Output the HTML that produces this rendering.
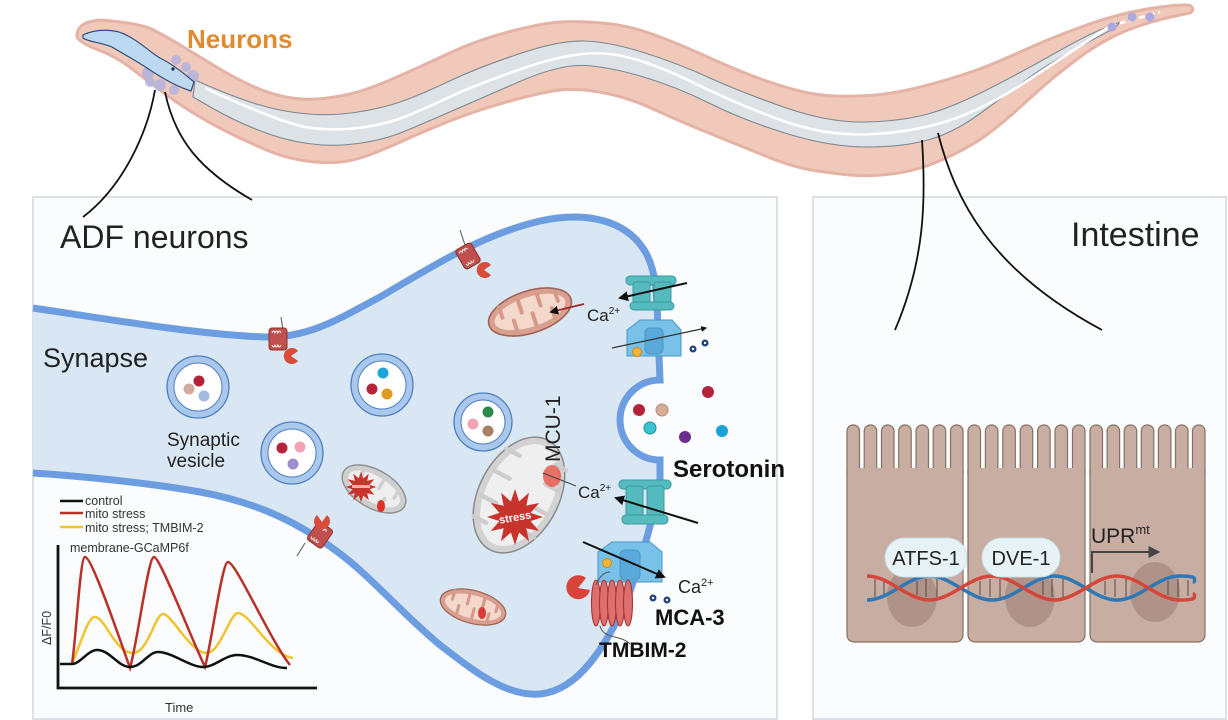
<!DOCTYPE html>
<html><head><meta charset="utf-8"><style>
html,body{margin:0;padding:0;background:#fff;}
svg{display:block;}
</style></head><body>
<svg width="1228" height="720" viewBox="0 0 1228 720" xmlns="http://www.w3.org/2000/svg" font-family="'Liberation Sans', Arial, sans-serif">
<defs>
<marker id="ah" viewBox="0 0 10 10" refX="8" refY="5" markerWidth="5" markerHeight="5" orient="auto"><path d="M0,0 L10,5 L0,10 z" fill="#111"/></marker>
<marker id="ahg" viewBox="0 0 10 10" refX="8" refY="5" markerWidth="6" markerHeight="6" orient="auto"><path d="M0,0 L10,5 L0,10 z" fill="#444"/></marker>
<polygon id="star" points="28,0 15.5,4.1 24.2,14 11.3,11.3 14,24.2 4.1,15.5 0,28 -4.1,15.5 -14,24.2 -11.3,11.3 -24.2,14 -15.5,4.1 -28,0 -15.5,-4.1 -24.2,-14 -11.3,-11.3 -14,-24.2 -4.1,-15.5 0,-28 4.1,-15.5 14,-24.2 11.3,-11.3 24.2,-14 15.5,-4.1"/>
<g id="mitoH">
  <ellipse cx="0" cy="0" rx="43" ry="21" fill="#d99f8f" stroke="#9e6356" stroke-width="1.6"/>
  <ellipse cx="0" cy="0" rx="37" ry="15" fill="#f4d8cb"/>
  <g stroke="#d69a89" stroke-width="4" stroke-linecap="round">
    <line x1="-28" y1="-14" x2="-28" y2="-3"/><line x1="-18" y1="14" x2="-18" y2="3"/>
    <line x1="-8" y1="-15" x2="-8" y2="-2"/><line x1="2" y1="15" x2="2" y2="2"/>
    <line x1="12" y1="-15" x2="12" y2="-3"/><line x1="22" y1="14" x2="22" y2="3"/>
    <line x1="30" y1="-11" x2="30" y2="-2"/>
  </g>
</g>
<g id="rec">
  <rect x="-9" y="-11" width="18" height="22" rx="3" fill="#c0504d" stroke="#8e2f2c" stroke-width="1"/>
  <path d="M-6,-6 q1.5,-4 3,0 q1.5,-4 3,0 q1.5,-4 3,0 M-6,6 q1.5,4 3,0 q1.5,4 3,0 q1.5,4 3,0" stroke="#fff" stroke-width="0.9" fill="none"/>
</g>
</defs>

<rect width="1228" height="720" fill="#ffffff"/>

<!-- panels -->
<rect x="33" y="197" width="744" height="522" fill="#fbfcfd" stroke="#dde1e6" stroke-width="2"/>
<rect x="813" y="197" width="413" height="522" fill="#fbfcfd" stroke="#dde1e6" stroke-width="2"/>

<!-- WORM -->
<path d="M100,20 Q140,23 153.5,30 Q167,37 183.5,47 Q200,57 216.5,67 Q233,77 250,85 Q267,93 283.5,96.5 Q300,100 316.5,99 Q333,98 350,94 Q367,90 393.5,78.5 Q420,67 448.5,53.5 Q477,40 510,31.5 Q543,23 560,22 Q577,21 602,23 Q627,25 652,34 Q677,43 710,58 Q743,73 768,81.5 Q793,90 811.5,93.5 Q830,97 858.5,96 Q887,95 912,89 Q937,83 962,75 Q987,67 1020,52 Q1053,37 1086.5,25 Q1120,13 1153.5,8 Q1187,3 1191,6 Q1195,10 1190,13 Q1153,20 1128,30 Q1103,40 1078,58.5 Q1053,77 1028,100 Q1003,123 986.5,135 Q970,147 945,158.5 Q920,170 895,173.5 Q870,177 850,175 Q830,173 811.5,170 Q793,167 768,157 Q743,147 710,133.5 Q677,120 652,108.5 Q627,97 602,92.5 Q577,88 560,90 Q543,92 510,101 Q477,110 448.5,121.5 Q420,133 401.5,141.5 Q383,150 366.5,156 Q350,162 333.5,162.5 Q317,163 300,160 Q283,157 266.5,150 Q250,143 233.5,135 Q217,127 200,117 Q183,107 166.5,95 Q150,83 133.5,70 Q117,57 98.5,50 Q80,43 77,37 Q76,22 100,20 Z" fill="#f0c9bb" stroke="#e4b3a5" stroke-width="3"/>
<!-- gut -->
<path d="M195,80 Q233,97 258,104.5 Q283,112 308,114 Q333,116 358,112 Q383,108 401.5,101.5 Q420,95 448.5,81.5 Q477,68 518.5,54 Q560,40 585,41 Q610,42 643.5,52.5 Q677,63 710,78 Q743,93 786.5,108 Q830,123 866.5,122 Q903,121 928,114 Q953,107 986.5,90 Q1020,73 1053.5,54 Q1087,35 1103.5,28.5 L1120,22 L1115,28 Q1053,60 1028,78.5 Q1003,97 978,115 Q953,133 928,140 Q903,147 866.5,147 Q830,147 786.5,133.5 Q743,120 710,103.5 Q677,87 643.5,77 Q610,67 585,65.5 Q560,64 518.5,82 Q477,100 448.5,112.5 Q420,125 401.5,132.5 Q383,140 358,143.5 Q333,147 308,143.5 Q283,140 258,130 Q233,120 213,108.5 L193,97 Z" fill="#dde2e6" stroke="#7d8891" stroke-width="1.1"/>
<path d="M205,88 Q283,124 308,127.5 Q333,131 358,128 Q383,125 401.5,118 Q420,111 448.5,97.5 Q477,84 527,67 Q577,50 610,54 Q643,58 693,82.5 Q743,107 786.5,122 Q830,137 875,134 Q920,131 953.5,119 Q987,107 1020,85.5 Q1053,64 1110,26" fill="none" stroke="#ffffff" stroke-width="2.6"/>
<path d="M1110,26 L1160,12" stroke="#ffffff" stroke-width="2.5" stroke-dasharray="6,4"/>
<circle cx="1112" cy="27" r="4.5" fill="#a9a8e0"/>
<circle cx="1132" cy="17" r="4.5" fill="#a9a8e0"/>
<circle cx="1150" cy="17" r="4.5" fill="#a9a8e0"/>
<!-- neuron blobs -->
<g fill="#b3b2e0" opacity="0.85">
<circle cx="148" cy="73" r="6"/><circle cx="158" cy="62" r="5"/><circle cx="176" cy="60" r="5"/><circle cx="186" cy="67" r="5"/><circle cx="193" cy="76" r="6"/><circle cx="160" cy="85" r="6"/><circle cx="174" cy="90" r="5"/><circle cx="150" cy="82" r="5"/>
</g>
<!-- pharynx -->
<path d="M83,35 C95,29 115,28 128,36 C140,42 150,52 160,58 C172,64 186,75 194,82 L191,91 C178,87 165,80 150,70 C135,60 125,55 112,47 C100,42 88,42 83,38 Z" fill="#bcd9f1" stroke="#2f4d7a" stroke-width="1.2"/>
<circle cx="173" cy="69" r="1.6" fill="#1b2a4a"/>
<text x="187" y="48" font-size="26" font-weight="bold" fill="#e08b2f">Neurons</text>

<!-- CELL -->
<path d="M33,308 C100,318 200,335 265,337 C310,338 340,318 380,297 C430,268 480,235 540,221 C590,210 630,222 647,255 C657,275 657,300 658,330 L660,380 A40,40 0 0 0 660,460 L660,480 C655,515 638,570 625,605 C605,645 580,690 540,694 C505,697 470,668 440,645 C400,612 370,575 335,550 C300,524 260,503 200,492 C150,483 80,476 33,473 Z" fill="#d8e7f3"/>
<path d="M33,308 C100,318 200,335 265,337 C310,338 340,318 380,297 C430,268 480,235 540,221 C590,210 630,222 647,255 C657,275 657,300 658,330 L660,380 A40,40 0 0 0 660,460 L660,480 C655,515 638,570 625,605 C605,645 580,690 540,694 C505,697 470,668 440,645 C400,612 370,575 335,550 C300,524 260,503 200,492 C150,483 80,476 33,473" fill="none" stroke="#6c9de0" stroke-width="7"/>

<!-- connector lines -->
<g fill="none" stroke="#111" stroke-width="1.8">
<path d="M155,90 C148,130 125,185 83,217"/>
<path d="M165,92 C175,140 200,170 252,200"/>
<path d="M922,140 C926,200 925,260 895,330"/>
<path d="M938,133 C955,200 990,270 1102,330"/>
</g>

<text x="60" y="248" font-size="32" fill="#222">ADF neurons</text>
<text x="1071" y="246" font-size="34" fill="#222">Intestine</text>
<text x="43" y="367" font-size="27" fill="#222">Synapse</text>
<text x="167" y="446" font-size="19" fill="#222">Synaptic</text>
<text x="167" y="467" font-size="19" fill="#222">vesicle</text>

<!-- vesicles -->
<g stroke="#4f7fc0">
<circle cx="198" cy="387" r="31" fill="#a9c8ec" stroke-width="1.3"/><circle cx="198" cy="387" r="24" fill="#fff" stroke-width="1"/>
<circle cx="382" cy="385" r="31" fill="#a9c8ec" stroke-width="1.3"/><circle cx="382" cy="385" r="24" fill="#fff" stroke-width="1"/>
<circle cx="292" cy="453" r="31" fill="#a9c8ec" stroke-width="1.3"/><circle cx="292" cy="453" r="24" fill="#fff" stroke-width="1"/>
<circle cx="483" cy="422" r="29" fill="#a9c8ec" stroke-width="1.3"/><circle cx="483" cy="422" r="22" fill="#fff" stroke-width="1"/>
</g>
<circle cx="199" cy="381" r="5.5" fill="#b5233a"/><circle cx="189" cy="389" r="5.5" fill="#d2ab9a"/><circle cx="204" cy="396" r="5.5" fill="#a3bbe0"/>
<circle cx="383" cy="373" r="5.5" fill="#1aa7d8"/><circle cx="372" cy="389" r="5.5" fill="#b5233a"/><circle cx="387" cy="394" r="5.5" fill="#e09a1e"/>
<circle cx="282" cy="448" r="5.5" fill="#b5233a"/><circle cx="300" cy="447" r="5.5" fill="#f2a3b3"/><circle cx="293" cy="464" r="5.5" fill="#a08fd0"/>
<circle cx="488" cy="412" r="5.5" fill="#2e8a4a"/><circle cx="473" cy="424" r="5.5" fill="#f2a3b3"/><circle cx="488" cy="431" r="5.5" fill="#a88066"/>

<!-- healthy mitochondria -->
<g transform="translate(530,312) rotate(-18)"><use href="#mitoH"/></g>
<g transform="translate(473,607) rotate(15) scale(0.78)"><use href="#mitoH"/></g>
<ellipse cx="482" cy="613" rx="4" ry="6" fill="#d83a3a"/>

<!-- stressed mito small -->
<g transform="translate(374,489) rotate(30)">
<ellipse rx="35" ry="19" fill="#cfcfcf" stroke="#8f8f8f" stroke-width="1.4"/>
<ellipse rx="29" ry="13" fill="#eeeeee"/>
<g stroke="#cfcfcf" stroke-width="3.5" stroke-linecap="round"><line x1="-18" y1="-13" x2="-18" y2="-3"/><line x1="-8" y1="13" x2="-8" y2="3"/><line x1="4" y1="-13" x2="4" y2="-3"/><line x1="14" y1="13" x2="14" y2="3"/><line x1="22" y1="-10" x2="22" y2="-2"/></g>
</g>
<g transform="translate(361,487) scale(0.55)"><use href="#star" fill="#c8332c"/></g>
<rect x="352" y="485" width="18" height="3" fill="#f0b0a8"/>
<ellipse cx="381" cy="506" rx="4" ry="6" fill="#e0302a"/>

<!-- big stressed mito -->
<g transform="translate(519,495) rotate(28)">
<ellipse rx="40" ry="62" fill="#d2d2d2" stroke="#8a8a8a" stroke-width="1.5"/>
<ellipse rx="33" ry="55" fill="#efefef"/>
<g stroke="#cdcdcd" stroke-width="4.5" stroke-linecap="round"><line x1="-33" y1="-35" x2="-18" y2="-35"/><line x1="33" y1="-22" x2="18" y2="-22"/><line x1="-33" y1="-10" x2="-16" y2="-10"/><line x1="33" y1="4" x2="16" y2="4"/><line x1="-33" y1="18" x2="-16" y2="18"/><line x1="33" y1="30" x2="18" y2="30"/><line x1="-30" y1="40" x2="-16" y2="40"/><line x1="30" y1="-44" x2="18" y2="-44"/></g>
</g>
<ellipse cx="552" cy="476" rx="9" ry="11" fill="#e55a50" opacity="0.85"/>
<g transform="translate(515,517)"><use href="#star" fill="#c8332c"/></g>
<text x="515" y="521" font-size="11" font-weight="bold" fill="#fff" text-anchor="middle" transform="rotate(-10 515 517)">stress</text>
<text x="0" y="0" font-size="21" fill="#222" transform="translate(560,462) rotate(-90)">MCU-1</text>

<!-- receptors -->
<line x1="283" y1="330" x2="281" y2="317" stroke="#555" stroke-width="1"/>
<g transform="translate(278,339)"><use href="#rec"/></g>
<path d="M291,356 L298,351 A8,8 0 1 0 298,361 Z" fill="#d94b3a"/>
<line x1="465" y1="245" x2="460" y2="230" stroke="#555" stroke-width="1"/>
<g transform="translate(468,256) rotate(-30)"><use href="#rec"/></g>
<path d="M484,270 L491,265 A8,8 0 1 0 491,275 Z" fill="#d94b3a"/>
<g transform="translate(320,535) rotate(35)"><use href="#rec"/></g>
<path d="M322,522 L329,517 A8,8 0 1 0 329,527 Z" fill="#d94b3a" transform="rotate(-90 322 522)"/>
<line x1="305" y1="543" x2="297" y2="556" stroke="#555" stroke-width="1"/>

<!-- channels -->
<g fill="#55bbbe" stroke="#3c9a9e" stroke-width="1">
<rect x="626" y="276" width="50" height="9" rx="4"/>
<rect x="633" y="282" width="17" height="28" rx="3"/>
<rect x="654" y="282" width="17" height="28" rx="3"/>
<rect x="630" y="302" width="44" height="8" rx="4"/>
<rect x="619" y="480" width="52" height="9" rx="4"/>
<rect x="626" y="486" width="17" height="34" rx="3"/>
<rect x="647" y="486" width="17" height="34" rx="3"/>
<rect x="622" y="515" width="46" height="9" rx="4"/>
</g>
<g fill="#78c1e8" stroke="#4a97c4" stroke-width="1">
<path d="M627,330 L640,320 L672,320 L681,330 L681,356 L627,356 Z"/>
<rect x="645" y="328" width="18" height="26" rx="5" fill="#5aa9da"/>
<path d="M598,552 L612,542 L650,542 L662,552 L662,582 L598,582 Z"/>
<rect x="620" y="550" width="20" height="30" rx="5" fill="#5aa9da"/>
</g>
<circle cx="637" cy="352" r="4.5" fill="#f2b53a" stroke="#c58a1f"/>
<circle cx="607" cy="563" r="4.5" fill="#f2b53a" stroke="#c58a1f"/>
<g fill="#23427a"><circle cx="693" cy="349" r="3.5"/><circle cx="705" cy="343" r="3.5"/><circle cx="653" cy="598" r="3.5"/><circle cx="667" cy="600" r="3.5"/></g>
<g fill="#fff"><circle cx="693" cy="349" r="1.2"/><circle cx="705" cy="343" r="1.2"/><circle cx="653" cy="598" r="1.2"/><circle cx="667" cy="600" r="1.2"/></g>

<!-- TMBIM-2 coils -->
<g fill="#dd6f6f" stroke="#a83232" stroke-width="1.1">
<ellipse cx="596" cy="603" rx="4.5" ry="23"/><ellipse cx="604" cy="603" rx="4.5" ry="23"/><ellipse cx="612" cy="603" rx="4.5" ry="23"/><ellipse cx="620" cy="603" rx="4.5" ry="23"/><ellipse cx="628" cy="603" rx="4.5" ry="23"/>
</g>
<path d="M600,626 C604,640 620,634 630,644" fill="none" stroke="#555" stroke-width="1"/>
<path d="M596,585 C600,575 605,572 610,572" fill="none" stroke="#555" stroke-width="1"/>
<path d="M578,588 L586,578 A12,12 0 1 0 590,590 Z" fill="#d9443a"/>

<!-- arrows -->
<g stroke="#111" stroke-width="2" fill="none">
<line x1="687" y1="283" x2="620" y2="298" marker-end="url(#ah)"/>
<line x1="698" y1="523" x2="616" y2="498" marker-end="url(#ah)"/>
<line x1="583" y1="542" x2="664" y2="577" marker-end="url(#ah)"/>
</g>
<line x1="612" y1="348" x2="706" y2="328" stroke="#333" stroke-width="1.2" marker-end="url(#ah)"/>
<line x1="584" y1="304" x2="551" y2="312" stroke="#9a2a2a" stroke-width="1.8" marker-end="url(#ah)"/>
<line x1="543" y1="473" x2="576" y2="486" stroke="#444" stroke-width="1"/>

<text x="587" y="321" font-size="17" fill="#222">Ca<tspan font-size="10" dy="-7">2+</tspan></text>
<text x="578" y="498" font-size="17" fill="#222">Ca<tspan font-size="10" dy="-7">2+</tspan></text>
<text x="678" y="593" font-size="18" fill="#222">Ca<tspan font-size="11" dy="-7">2+</tspan></text>

<!-- serotonin -->
<circle cx="708" cy="392" r="6" fill="#b5233a"/>
<circle cx="639" cy="410" r="6" fill="#b5233a"/>
<circle cx="662" cy="410" r="6" fill="#d7ad98" stroke="#b88e7c"/>
<circle cx="650" cy="428" r="6" fill="#3dc2cf" stroke="#1e8f9a"/>
<circle cx="685" cy="437" r="6" fill="#6a2f8e"/>
<circle cx="722" cy="431" r="6" fill="#1aa2d6"/>
<text x="673" y="477" font-size="24" font-weight="bold" fill="#111">Serotonin</text>
<text x="655" y="625" font-size="22" font-weight="bold" fill="#111">MCA-3</text>
<text x="599" y="657" font-size="21" font-weight="bold" fill="#111">TMBIM-2</text>

<!-- GRAPH -->
<g stroke-width="2.5" fill="none">
<line x1="60" y1="501" x2="83" y2="501" stroke="#111"/>
<line x1="60" y1="513" x2="83" y2="513" stroke="#b8322a"/>
<line x1="60" y1="527" x2="83" y2="527" stroke="#f0c330"/>
</g>
<g font-size="12.5" fill="#333">
<text x="85" y="505">control</text>
<text x="85" y="518">mito stress</text>
<text x="85" y="532">mito stress; TMBIM-2</text>
<text x="70" y="552">membrane-GCaMP6f</text>
<text x="165" y="712" font-size="13">Time</text>
<text x="0" y="0" transform="translate(51,645) rotate(-90)">ΔF/F0</text>
</g>
<path d="M58,545 L58,688 L317,688" fill="none" stroke="#111" stroke-width="2.8"/>
<path d="M72,664 C82,640 88,617 95,617 C105,617 115,653 133,653 C148,653 155,614 163,614 C172,614 190,653 207,653 C220,653 230,613 238,613 C250,613 270,655 293,658" fill="none" stroke="#f0c330" stroke-width="2.5"/>
<path d="M72,664 C76,640 80,557 85,557 C92,557 120,640 130,668 C138,640 148,557 154,557 C160,557 192,640 205,667 C212,640 222,562 228,562 C236,562 270,640 290,665" fill="none" stroke="#b8322a" stroke-width="2.5"/>
<path d="M60,664 L72,664 C80,664 88,650 97,650 C110,650 118,667 130,667 C142,667 148,652 158,652 C172,652 190,667 203,667 C215,667 225,655 237,655 C255,655 270,668 287,668" fill="none" stroke="#111" stroke-width="2.5"/>

<!-- INTESTINE CELLS -->
<g fill="#c8aea2" stroke="#86705f" stroke-width="1.2">
<rect x="847" y="425" width="12.5" height="55" rx="6"/><rect x="864.2" y="425" width="12.5" height="55" rx="6"/><rect x="881.5" y="425" width="12.5" height="55" rx="6"/><rect x="898.7" y="425" width="12.5" height="55" rx="6"/><rect x="916" y="425" width="12.5" height="55" rx="6"/><rect x="933.2" y="425" width="12.5" height="55" rx="6"/><rect x="950.5" y="425" width="12.5" height="55" rx="6"/>
<rect x="968" y="425" width="12.5" height="55" rx="6"/><rect x="985.4" y="425" width="12.5" height="55" rx="6"/><rect x="1002.8" y="425" width="12.5" height="55" rx="6"/><rect x="1020.2" y="425" width="12.5" height="55" rx="6"/><rect x="1037.6" y="425" width="12.5" height="55" rx="6"/><rect x="1055" y="425" width="12.5" height="55" rx="6"/><rect x="1072.5" y="425" width="12.5" height="55" rx="6"/>
<rect x="1090" y="425" width="12.5" height="55" rx="6"/><rect x="1107.1" y="425" width="12.5" height="55" rx="6"/><rect x="1124.2" y="425" width="12.5" height="55" rx="6"/><rect x="1141.3" y="425" width="12.5" height="55" rx="6"/><rect x="1158.4" y="425" width="12.5" height="55" rx="6"/><rect x="1175.5" y="425" width="12.5" height="55" rx="6"/><rect x="1192.5" y="425" width="12.5" height="55" rx="6"/>
<path d="M847,470 L847,634 Q847,642 855,642 L955,642 Q963,642 963,634 L963,470"/>
<path d="M968,470 L968,634 Q968,642 976,642 L1077,642 Q1085,642 1085,634 L1085,470"/>
<path d="M1090,470 L1090,634 Q1090,642 1098,642 L1197,642 Q1205,642 1205,634 L1205,470"/>
</g>
<g fill="#c8aea2">
<rect x="848" y="468" width="114" height="16"/>
<rect x="969" y="468" width="115" height="16"/>
<rect x="1091" y="468" width="113" height="16"/>
</g>
<g fill="#9c7d73" opacity="0.55">
<ellipse cx="912" cy="597" rx="25" ry="30"/>
<ellipse cx="1030" cy="597" rx="25" ry="30"/>
<ellipse cx="1155" cy="592" rx="25" ry="30"/>
</g>
<!-- DNA -->
<g stroke="#333" stroke-width="0.8">
<line x1="875" y1="579" x2="875" y2="597"/><line x1="884" y1="581" x2="884" y2="595"/><line x1="917" y1="581" x2="917" y2="595"/><line x1="926" y1="579" x2="926" y2="597"/><line x1="937" y1="579" x2="937" y2="597"/>
<line x1="980" y1="581" x2="980" y2="595"/><line x1="990" y1="579" x2="990" y2="597"/><line x1="1000" y1="579" x2="1000" y2="597"/><line x1="1043" y1="581" x2="1043" y2="595"/><line x1="1052" y1="579" x2="1052" y2="597"/><line x1="1063" y1="579" x2="1063" y2="597"/>
<line x1="1105" y1="581" x2="1105" y2="595"/><line x1="1115" y1="579" x2="1115" y2="597"/><line x1="1126" y1="579" x2="1126" y2="597"/><line x1="1168" y1="581" x2="1168" y2="595"/><line x1="1178" y1="579" x2="1178" y2="597"/><line x1="1188" y1="580" x2="1188" y2="596"/>
</g>
<path d="M867,600 C889.5,600 907.5,576 929.5,576 S969.5,600 992,600 S1032.5,576 1054.5,576 S1094.5,600 1117,600 S1157.5,576 1179.5,576 S1192,580 1195,583" fill="none" stroke="#2f78b5" stroke-width="3.5"/>
<path d="M867,576 C889.5,576 907.5,600 929.5,600 S969.5,576 992,576 S1032.5,600 1054.5,600 S1094.5,576 1117,576 S1157.5,600 1179.5,600 S1192,596 1195,593" fill="none" stroke="#d4463c" stroke-width="3.5"/>
<rect x="885" y="538" width="82" height="39" rx="19.5" fill="#e6f2f6" stroke="#c9dde5" stroke-width="1"/>
<text x="926" y="565" font-size="20" fill="#222" text-anchor="middle">ATFS-1</text>
<rect x="982" y="538" width="78" height="39" rx="19.5" fill="#e6f2f6" stroke="#c9dde5" stroke-width="1"/>
<text x="1021" y="565" font-size="20" fill="#222" text-anchor="middle">DVE-1</text>
<text x="1091" y="543" font-size="21" fill="#222">UPR<tspan font-size="13" dy="-9">mt</tspan></text>
<path d="M1092,573 L1092,552 L1158,552" fill="none" stroke="#444" stroke-width="2" marker-end="url(#ahg)"/>
</svg>
</body></html>
